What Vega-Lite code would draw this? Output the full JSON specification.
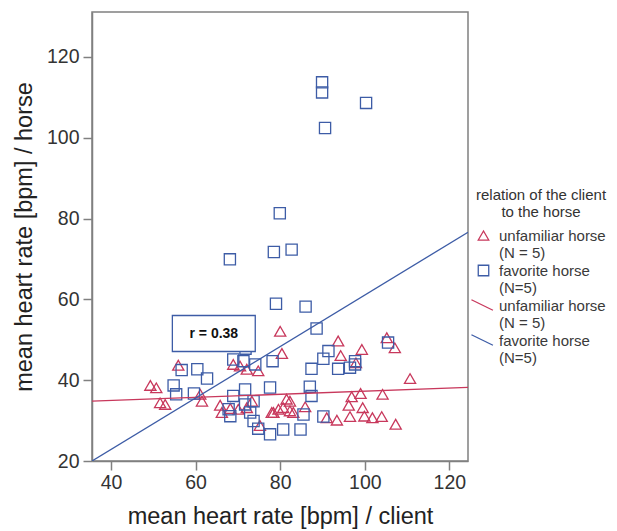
{
  "$schema": "https://vega.github.io/schema/vega-lite/v6.json",
  "width": 376,
  "height": 449,
  "autosize": "none",
  "padding": {"left": 92, "top": 12, "right": 149, "bottom": 70},
  "background": "white",
  "config": {
    "font": "Liberation Sans",
    "view": {"stroke": "#808080", "strokeWidth": 1.5},
    "axis": {
      "grid": false,
      "domainColor": "#808080",
      "domainWidth": 1.5,
      "tickColor": "#808080",
      "tickWidth": 1.5,
      "tickSize": 9,
      "labelFontSize": 19.5,
      "labelColor": "#333333",
      "labelPadding": 3,
      "titleFontSize": 23.5,
      "titleFontWeight": "normal",
      "titleColor": "#222222"
    }
  },
  "datasets": {
    "pts": [
      {"x": 49.3, "y": 38.7, "series": "u_pt"}, {"x": 50.7, "y": 38.1, "series": "u_pt"}, {"x": 51.6, "y": 34.4, "series": "u_pt"}, {"x": 52.8, "y": 34.0, "series": "u_pt"},
      {"x": 55.9, "y": 43.7, "series": "u_pt"}, {"x": 61.1, "y": 36.5, "series": "u_pt"}, {"x": 61.5, "y": 34.8, "series": "u_pt"}, {"x": 65.8, "y": 33.8, "series": "u_pt"},
      {"x": 66.2, "y": 32.0, "series": "u_pt"}, {"x": 68.2, "y": 33.0, "series": "u_pt"}, {"x": 68.9, "y": 43.9, "series": "u_pt"}, {"x": 70.1, "y": 32.8, "series": "u_pt"},
      {"x": 70.5, "y": 43.5, "series": "u_pt"}, {"x": 72.1, "y": 33.2, "series": "u_pt"}, {"x": 72.1, "y": 42.7, "series": "u_pt"}, {"x": 73.3, "y": 34.8, "series": "u_pt"},
      {"x": 74.8, "y": 42.3, "series": "u_pt"}, {"x": 75.2, "y": 28.8, "series": "u_pt"}, {"x": 78.0, "y": 32.0, "series": "u_pt"}, {"x": 78.4, "y": 32.0, "series": "u_pt"},
      {"x": 79.6, "y": 32.8, "series": "u_pt"}, {"x": 80.0, "y": 52.1, "series": "u_pt"}, {"x": 80.4, "y": 46.6, "series": "u_pt"}, {"x": 80.7, "y": 33.2, "series": "u_pt"},
      {"x": 81.5, "y": 35.3, "series": "u_pt"}, {"x": 82.3, "y": 34.8, "series": "u_pt"}, {"x": 82.3, "y": 32.4, "series": "u_pt"}, {"x": 83.1, "y": 32.0, "series": "u_pt"},
      {"x": 85.9, "y": 33.4, "series": "u_pt"}, {"x": 91.0, "y": 30.7, "series": "u_pt"}, {"x": 93.4, "y": 30.1, "series": "u_pt"}, {"x": 93.7, "y": 49.7, "series": "u_pt"},
      {"x": 94.3, "y": 46.1, "series": "u_pt"}, {"x": 96.2, "y": 33.8, "series": "u_pt"}, {"x": 96.5, "y": 31.0, "series": "u_pt"}, {"x": 96.9, "y": 35.9, "series": "u_pt"},
      {"x": 97.9, "y": 44.3, "series": "u_pt"}, {"x": 99.0, "y": 36.7, "series": "u_pt"}, {"x": 99.3, "y": 47.6, "series": "u_pt"}, {"x": 99.5, "y": 33.2, "series": "u_pt"},
      {"x": 99.9, "y": 31.1, "series": "u_pt"}, {"x": 101.8, "y": 30.7, "series": "u_pt"}, {"x": 104.0, "y": 31.0, "series": "u_pt"}, {"x": 104.2, "y": 36.5, "series": "u_pt"},
      {"x": 105.2, "y": 50.5, "series": "u_pt"}, {"x": 107.1, "y": 48.0, "series": "u_pt"}, {"x": 107.3, "y": 29.1, "series": "u_pt"}, {"x": 110.7, "y": 40.4, "series": "u_pt"},
      {"x": 54.8, "y": 38.7, "series": "f_pt"}, {"x": 55.4, "y": 36.5, "series": "f_pt"}, {"x": 56.7, "y": 42.5, "series": "f_pt"}, {"x": 59.6, "y": 36.7, "series": "f_pt"},
      {"x": 60.4, "y": 42.7, "series": "f_pt"}, {"x": 62.7, "y": 40.4, "series": "f_pt"}, {"x": 67.8, "y": 32.8, "series": "f_pt"}, {"x": 68.1, "y": 69.9, "series": "f_pt"},
      {"x": 68.2, "y": 31.1, "series": "f_pt"}, {"x": 68.9, "y": 45.1, "series": "f_pt"}, {"x": 68.9, "y": 36.1, "series": "f_pt"}, {"x": 71.3, "y": 44.7, "series": "f_pt"},
      {"x": 71.7, "y": 37.7, "series": "f_pt"}, {"x": 71.7, "y": 34.0, "series": "f_pt"}, {"x": 71.8, "y": 47.8, "series": "f_pt"}, {"x": 72.9, "y": 32.0, "series": "f_pt"},
      {"x": 73.7, "y": 34.8, "series": "f_pt"}, {"x": 73.7, "y": 29.9, "series": "f_pt"}, {"x": 74.1, "y": 43.9, "series": "f_pt"}, {"x": 74.8, "y": 28.0, "series": "f_pt"},
      {"x": 77.6, "y": 38.2, "series": "f_pt"}, {"x": 77.6, "y": 26.6, "series": "f_pt"}, {"x": 78.2, "y": 44.7, "series": "f_pt"}, {"x": 78.5, "y": 71.7, "series": "f_pt"},
      {"x": 79.0, "y": 58.9, "series": "f_pt"}, {"x": 79.9, "y": 81.3, "series": "f_pt"}, {"x": 80.7, "y": 27.8, "series": "f_pt"}, {"x": 82.7, "y": 72.3, "series": "f_pt"},
      {"x": 84.8, "y": 27.8, "series": "f_pt"}, {"x": 85.5, "y": 31.5, "series": "f_pt"}, {"x": 86.0, "y": 58.2, "series": "f_pt"}, {"x": 87.0, "y": 38.4, "series": "f_pt"},
      {"x": 87.4, "y": 36.1, "series": "f_pt"}, {"x": 87.4, "y": 42.8, "series": "f_pt"}, {"x": 88.6, "y": 52.8, "series": "f_pt"}, {"x": 89.9, "y": 113.7, "series": "f_pt"},
      {"x": 89.9, "y": 111.2, "series": "f_pt"}, {"x": 90.2, "y": 45.3, "series": "f_pt"}, {"x": 90.2, "y": 31.0, "series": "f_pt"}, {"x": 90.6, "y": 102.4, "series": "f_pt"},
      {"x": 91.4, "y": 47.2, "series": "f_pt"}, {"x": 93.7, "y": 42.8, "series": "f_pt"}, {"x": 96.5, "y": 43.1, "series": "f_pt"}, {"x": 97.7, "y": 44.7, "series": "f_pt"},
      {"x": 97.7, "y": 43.9, "series": "f_pt"}, {"x": 100.3, "y": 108.6, "series": "f_pt"}, {"x": 105.5, "y": 49.3, "series": "f_pt"}
    ],
    "lines": [
      {"x": 35.5, "y": 34.8, "series": "u_line"}, {"x": 124.4, "y": 38.2, "series": "u_line"},
      {"x": 35.5, "y": 20.0, "series": "f_line"}, {"x": 124.4, "y": 76.6, "series": "f_line"}
    ],
    "box": [
      {"x": 54.5, "x2": 74.1, "y": 47.1, "y2": 56.0, "xc": 64.3, "yc": 51.5, "label": "r = 0.38"}
    ]
  },
  "layer": [
    {
      "data": {"name": "pts"},
      "mark": {"type": "point", "filled": false, "size": 125, "strokeWidth": 1.3, "opacity": 1},
      "encoding": {
        "x": {
          "field": "x", "type": "quantitative",
          "scale": {"domain": [35.5, 124.4], "nice": false, "zero": false},
          "axis": {"values": [40, 60, 80, 100, 120], "title": "mean heart rate [bpm] / client", "titlePadding": 13}
        },
        "y": {
          "field": "y", "type": "quantitative",
          "scale": {"domain": [20, 131.1], "nice": false, "zero": false},
          "axis": {"values": [20, 40, 60, 80, 100, 120], "title": "mean heart rate [bpm] / horse", "titlePadding": 10, "labelPadding": 4}
        },
        "color": {
          "field": "series", "type": "nominal",
          "scale": {"domain": ["u_pt", "f_pt", "u_line", "f_line"], "range": ["#c8385c", "#3d5ca6", "#c8385c", "#3d5ca6"]},
          "legend": {
            "orient": "none",
            "legendX": 384,
            "legendY": 176,
            "title": ["relation of the client", "to the horse"],
            "titleFontSize": 15,
            "titleFontWeight": "normal",
            "titleColor": "#333333",
            "titleAnchor": "middle",
            "titleAlign": "center",
            "titlePadding": 8,
            "labelFontSize": 15,
            "labelColor": "#3a3a3a",
            "labelBaseline": "middle",
            "labelExpr": "datum.value == 'u_pt' || datum.value == 'u_line' ? ['unfamiliar horse', '(N = 5)'] : ['favorite horse', '(N=5)']",
            "symbolSize": 110,
            "symbolStrokeWidth": 1.3,
            "rowPadding": 1,
            "labelOffset": 8
          }
        },
        "shape": {
          "field": "series", "type": "nominal",
          "scale": {"domain": ["u_pt", "f_pt", "u_line", "f_line"], "range": ["triangle-up", "square", "M-2.3,-1.1L1.8,0.9", "M-2.3,-1.1L1.8,0.9"]}
        }
      }
    },
    {
      "data": {"name": "lines"},
      "mark": {"type": "line", "strokeWidth": 1.3, "clip": true},
      "encoding": {
        "x": {"field": "x", "type": "quantitative"},
        "y": {"field": "y", "type": "quantitative"},
        "color": {"field": "series", "type": "nominal"},
        "detail": {"field": "series"}
      }
    },
    {
      "data": {"name": "box"},
      "mark": {"type": "rect", "fill": "white", "stroke": "#3d5ca6", "strokeWidth": 1.3},
      "encoding": {
        "x": {"field": "x", "type": "quantitative"},
        "x2": {"field": "x2"},
        "y": {"field": "y", "type": "quantitative"},
        "y2": {"field": "y2"}
      }
    },
    {
      "data": {"name": "box"},
      "mark": {"type": "text", "fontWeight": "bold", "fontSize": 14, "color": "#111111"},
      "encoding": {
        "x": {"field": "xc", "type": "quantitative"},
        "y": {"field": "yc", "type": "quantitative"},
        "text": {"field": "label"}
      }
    }
  ]
}
